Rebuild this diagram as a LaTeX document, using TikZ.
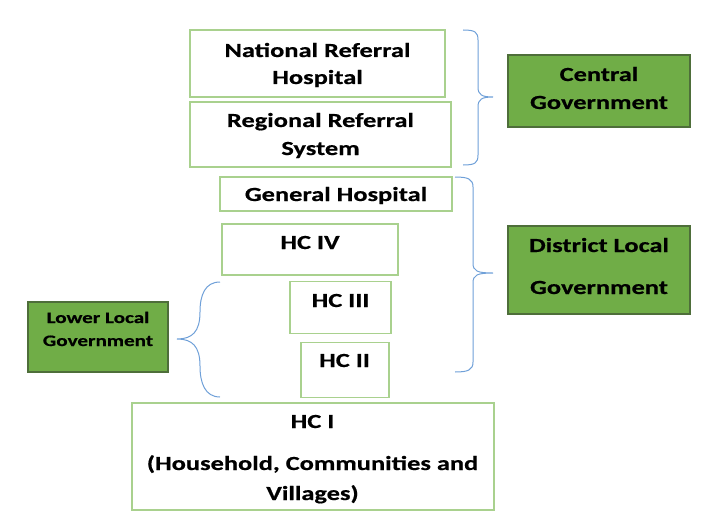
\documentclass[tikz,border=0pt]{standalone}
\usepackage{fontspec}
\setmainfont{Carlito}[FakeStretch=1.32,FakeBold=0.6]
\definecolor{boxgreen}{HTML}{A9D18E}
\definecolor{fillgreen}{HTML}{70AD47}
\definecolor{darkgreen}{HTML}{4E6E3A}
\definecolor{braceblue}{HTML}{6FA0D8}
\begin{document}
\begin{tikzpicture}[x=1pt,y=-1pt,
  hbox/.style={draw=boxgreen, line width=1.2pt, rectangle, inner sep=0pt, outer sep=0pt},
  gbox/.style={draw=darkgreen, fill=fillgreen, line width=1.2pt, rectangle, inner sep=0pt, outer sep=0pt},
  lbl/.style={font=\fontsize{20}{28}\selectfont\bfseries, inner sep=0pt, anchor=base},
  slbl/.style={font=\fontsize{16}{20}\selectfont\bfseries, inner sep=0pt, anchor=base},
  brace/.style={draw=braceblue, line width=1pt}]
\useasboundingbox (0,0) rectangle (714,524);
% boxes
\node[hbox, minimum width=255pt, minimum height=67pt] (nrh) at (317.5,63.5) {};
\node[hbox, minimum width=261pt, minimum height=65pt] (rrs) at (320.5,134.5) {};
\node[hbox, minimum width=232pt, minimum height=34pt] (gh) at (336,194) {};
\node[hbox, minimum width=176pt, minimum height=51pt] (hc4) at (310,249.5) {};
\node[hbox, minimum width=101pt, minimum height=52pt] (hc3) at (340.5,307.5) {};
\node[hbox, minimum width=88pt, minimum height=55pt] (hc2) at (345,370) {};
\node[hbox, minimum width=362pt, minimum height=107pt] (hc1) at (313,456.5) {};
\node[gbox, minimum width=182pt, minimum height=72pt] (cg) at (599,91) {};
\node[gbox, minimum width=182pt, minimum height=88pt] (dlg) at (599,270) {};
\node[gbox, minimum width=140pt, minimum height=70pt] (llg) at (98,337) {};
% texts
\node[lbl] (t1) at (317.5,57) {National Referral};
\node[lbl] (t2) at (317.5,84) {Hospital};
\node[lbl] (t3) at (320.5,127) {Regional Referral};
\node[lbl] (t4) at (320.5,155) {System};
\node[lbl] (t5) at (336,201) {General Hospital};
\node[lbl] (t6) at (310,249) {HC IV};
\node[lbl] (t7) at (340.5,307) {HC III};
\node[lbl] (t8) at (344.5,367) {HC II};
\node[lbl] (t9) at (312.5,428) {HC I};
\node[lbl] (t10) at (312.5,470) {(Household, Communities and};
\node[lbl] (t11) at (312.5,500) {Villages)};
\node[lbl] (t12) at (599,81) {Central};
\node[lbl] (t13) at (599,109) {Government};
\node[lbl] (t14) at (599,252) {District Local};
\node[lbl] (t15) at (599,294) {Government};
\node[slbl] (t16) at (98,323) {Lower Local};
\node[slbl] (t17) at (98,346) {Government};
% braces
\draw[brace] (463,30) .. controls (475,30) and (478,32) .. (478,40) -- (478,87)
  .. controls (478,95) and (482,97) .. (493,97)
  .. controls (482,97) and (478,99) .. (478,107) -- (478,155)
  .. controls (478,163) and (475,165) .. (463,165);
\draw[brace] (455,177) .. controls (468,177) and (473,179) .. (473,187) -- (473,263)
  .. controls (473,271) and (477,273) .. (493,273)
  .. controls (477,273) and (473,275) .. (473,283) -- (473,362)
  .. controls (473,370) and (468,372) .. (455,372);
\draw[brace] (220,282) .. controls (205,282) and (200,295) .. (200,312)
  .. controls (200,332) and (192,339) .. (177,339)
  .. controls (192,339) and (200,346) .. (200,366)
  .. controls (200,383) and (205,397) .. (220,397);
\end{tikzpicture}
\end{document}
